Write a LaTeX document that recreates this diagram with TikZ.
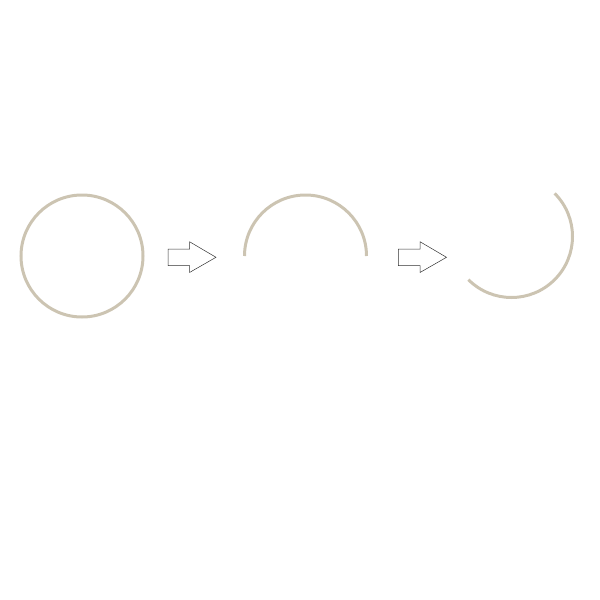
\documentclass[tikz,border=0pt]{standalone}
\usetikzlibrary{calc}
\begin{document}
\begin{tikzpicture}[x=1pt,y=-1pt,
  ring/.style={draw=arcgrey,line width=3pt},
  blockarrow/.style={draw=black!80,line width=0.5pt,fill=white}]
\definecolor{arcgrey}{RGB}{204,196,178}
\useasboundingbox (0,0) rectangle (600,600);
% full circle
\draw[ring] (82,256) circle[radius=61];
% arrow 1
\draw[blockarrow] (168,249) -- (189.5,249) -- (189.5,241.7) -- (216,257.3) -- (189.5,272.5) -- (189.5,265.7) -- (168,265.7) -- cycle;
% semicircle (upper half; y axis points down)
\draw[ring] (244.5,256) arc[start angle=180,end angle=360,radius=61];
% arrow 2
\draw[blockarrow] (398.3,249) -- (420,249) -- (420,241.7) -- (446.5,257.3) -- (420,272.5) -- (420,265.7) -- (398.3,265.7) -- cycle;
% rotated semicircle
\draw[ring] ($(511.5,236.5)+(-45:61)$) arc[start angle=-45,end angle=135,radius=61];
\end{tikzpicture}
\end{document}
